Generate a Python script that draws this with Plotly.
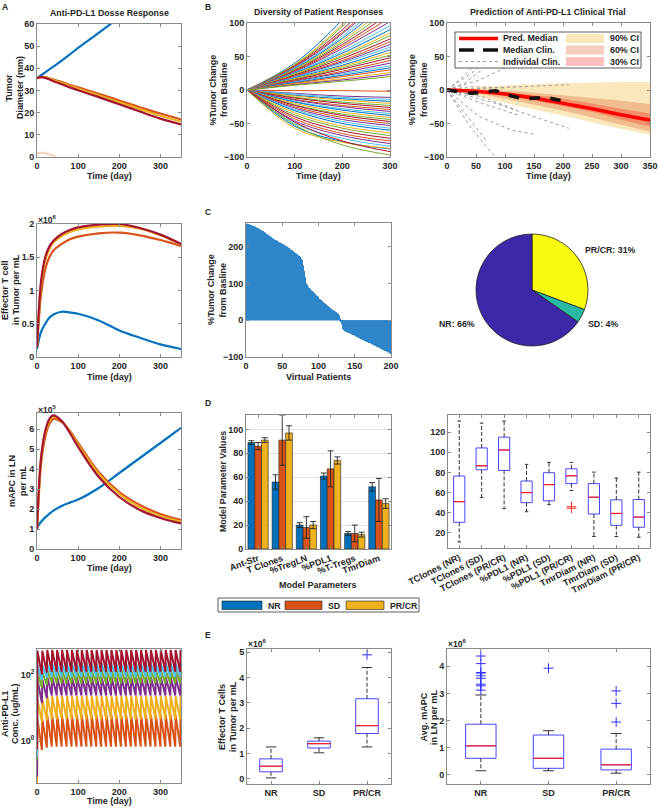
import plotly.graph_objects as go

W, H = 658, 808
FONT = "Liberation Sans, Arial, Helvetica, sans-serif"
TXT = "#262626"
AXC = "#8a8a8a"

# ======================= DATA =======================
# ---- Panel A : dose response (time in days) ----
tA = [0, 5, 10, 20, 30, 40, 60, 80, 100, 150, 200, 250, 300, 350]
diam_none = [35.5, 36.2, 36.9, 38.2, 39.5, 40.8, 43.5, 46.3, 49.2, 56.0, 63.0, 70.0, 78.0, 86.0]
diam_low = [35.5, 35.9, 36.1, 36.0, 35.5, 34.9, 33.8, 32.5, 31.4, 28.5, 25.5, 22.4, 19.6, 17.0]
diam_mid = [35.5, 35.9, 36.0, 35.9, 35.3, 34.6, 33.4, 32.0, 30.8, 27.8, 24.7, 21.6, 18.6, 16.0]
diam_high = [35.5, 35.9, 36.0, 35.7, 35.0, 34.2, 32.8, 31.4, 30.1, 27.0, 23.8, 20.5, 17.3, 14.7]
diam_faint_t = [0, 5, 15, 30, 45]
diam_faint = [1.5, 1.8, 1.9, 1.2, 0.2]

tcell_none = [0.12, 0.27, 0.38, 0.5, 0.59, 0.64, 0.68, 0.67, 0.65, 0.55, 0.40, 0.29, 0.19, 0.12]
tcell_low = [0.15, 0.6, 0.95, 1.32, 1.5, 1.6, 1.7, 1.77, 1.81, 1.86, 1.87, 1.83, 1.76, 1.67]
tcell_mid = [0.15, 0.72, 1.1, 1.45, 1.62, 1.72, 1.82, 1.88, 1.92, 1.96, 1.97, 1.93, 1.83, 1.69]
tcell_high = [0.15, 0.75, 1.15, 1.5, 1.66, 1.75, 1.85, 1.91, 1.95, 1.99, 2.0, 1.94, 1.84, 1.70]

mapc_none = [1.05, 1.22, 1.36, 1.58, 1.76, 1.92, 2.15, 2.32, 2.47, 3.05, 3.8, 4.55, 5.3, 6.05]
mapc_low = [1.0, 2.9, 4.3, 5.6, 6.25, 6.5, 6.35, 5.9, 5.3, 3.85, 2.85, 2.2, 1.75, 1.45]
mapc_mid = [1.0, 3.1, 4.5, 5.8, 6.4, 6.6, 6.4, 5.85, 5.2, 3.75, 2.75, 2.08, 1.65, 1.37]
mapc_high = [1.0, 3.2, 4.6, 5.9, 6.5, 6.68, 6.4, 5.8, 5.1, 3.6, 2.6, 1.95, 1.55, 1.28]

# Anti-PD-L1 PK (log10 ug/mL) per dose level
pk_interval = 12
pk_n_doses = 30
pk_colors = ["#D95319", "#EDB120", "#7E2F8E", "#77AC30", "#4DBEEE", "#A2142F"]
pk_start = [-1.5, -1.28, -1.08, -0.55, -0.47, -0.25]
pk_peak1 = [0.68, 1.28, 1.88, 2.10, 2.30, 2.74]
pk_peak = [0.79, 1.37, 1.95, 2.15, 2.35, 2.76]
pk_trough1 = [-0.27, 0.58, 1.15, 1.62, 1.85, 2.02]
pk_trough2 = [-0.20, 0.63, 1.30, 1.70, 1.92, 2.08]
pk_trough = [-0.17, 0.66, 1.38, 1.75, 1.95, 2.10]

# ---- Panel B left : virtual patients (% change at day 0,100,200,300) ----
tB = [0, 100, 200, 300]
vp_grow = [
    (40, 105, 190), (38, 98, 175), (37, 95, 170), (36, 90, 160), (35, 86, 150), (34, 84, 146),
    (33, 80, 140), (32, 77, 133), (31, 74, 127), (30, 71, 120), (29, 68, 114), (28, 65, 108),
    (27, 62, 102), (26, 58, 96), (25, 55, 90), (24, 52, 85), (23, 50, 81), (22, 47, 76),
    (21, 44, 72), (20, 42, 68), (19, 40, 64), (18, 37, 60), (17, 35, 56), (16, 33, 52),
    (15, 31, 48), (14, 28, 44), (13, 26, 40), (12, 24, 36), (11, 22, 33), (10, 20, 30),
    (9, 17, 26), (8, 15, 23), (7, 13, 20)]
vp_shrink = [
    (-1, -1, -2), (-5, -9, -11), (-6, -11, -14), (-8, -13, -17), (-9, -15, -20), (-11, -18, -23),
    (-12, -20, -26), (-14, -23, -29), (-15, -25, -32), (-17, -28, -35), (-18, -30, -38),
    (-20, -33, -41), (-22, -36, -44), (-23, -38, -47), (-25, -41, -50), (-27, -44, -53),
    (-29, -47, -57), (-31, -50, -60), (-34, -54, -64), (-37, -57, -68), (-40, -61, -72),
    (-43, -65, -76), (-46, -68, -80), (-50, -72, -84), (-54, -77, -88), (-57, -78, -87),
    (-52, -82, -97), (-48, -76, -92)]
line_cycle = ["#0072BD", "#D95319", "#EDB120", "#7E2F8E", "#77AC30", "#4DBEEE", "#A2142F"]

# ---- Panel B right : clinical trial prediction ----
tP = [0, 50, 100, 150, 200, 250, 300, 350]
pred_med = [0, -2, -6, -12, -20, -28, -37, -45]
ci90_hi = [0, 4, 7, 9, 10, 11, 12, 12]
ci90_lo = [0, -9, -19, -29, -38, -48, -58, -67]
ci60_hi = [0, 1, -1, -4, -8, -12, -16, -21]
ci60_lo = [0, -5, -13, -22, -31, -41, -52, -62]
ci30_hi = [0, -1, -4, -8, -13, -20, -28, -35]
ci30_lo = [0, -3, -9, -16, -24, -33, -44, -55]
clin_med_t = [0, 14, 42, 56, 84, 98, 126, 140, 168, 182, 203, 210]
clin_med = [0, -2, -5, -4, -1, -6, -12, -13, -11, -13, -17, -20]
clin_ind = [
    ([0, 28, 56], [0, 20, 45]),
    ([0, 42, 84, 100], [0, 25, 55, 70]),
    ([0, 30, 60], [0, 10, 30]),
    ([0, 56, 112], [0, 15, 38]),
    ([0, 80, 160, 210], [0, 3, 7, 8]),
    ([0, 40, 100], [0, 5, 3]),
    ([0, 60, 120], [0, -10, -30]),
    ([0, 60, 125], [0, -20, -38]),
    ([0, 56, 112, 150], [0, -40, -60, -66]),
    ([0, 84, 168, 210], [0, -20, -45, -57]),
    ([0, 40, 67], [0, -45, -75]),
    ([0, 40, 83], [0, -55, -100]),
]

# ---- Panel C : waterfall of 200 virtual patients ----
waterfall = [
    263, 262, 262, 261, 260, 260, 259, 258, 258, 257,
    256, 255, 254, 253, 252, 251, 250, 249, 247, 246,
    245, 244, 243, 241, 240, 239, 237, 236, 234, 233,
    231, 230, 228, 227, 225, 224, 223, 221, 220, 219,
    218, 217, 216, 214, 213, 212, 211, 210, 209, 208,
    207, 206, 205, 203, 202, 201, 200, 198, 197, 195,
    193, 192, 191, 189, 188, 186, 185, 183, 182, 180,
    178, 177, 175, 173, 171, 168, 165, 160, 150, 135,
    118, 104, 100, 97, 94, 91, 88, 86, 84, 82,
    80, 78, 76, 74, 72, 70, 68, 66, 64, 62,
    59, 57, 55, 54, 52, 50, 48, 47, 45, 43,
    42, 40, 38, 36, 35, 33, 32, 30, 29, 28,
    26, 25, 24, 22, 21, 20, 17, 14, 10, 5,
    -2, -10, -18, -24, -27, -29, -30, -31, -32, -33,
    -33, -34, -35, -36, -37, -38, -39, -40, -41, -42,
    -43, -44, -45, -46, -47, -48, -49, -50, -51, -52,
    -53, -54, -55, -56, -57, -58, -59, -60, -61, -62,
    -62, -63, -64, -65, -66, -67, -68, -69, -70, -71,
    -72, -73, -74, -75, -76, -77, -78, -79, -80, -81,
    -82, -83, -84, -85, -86, -87, -88, -89, -90, -92]
pie_labels = ["PR/CR", "SD", "NR"]
pie_values = [31, 4, 66]
pie_colors = ["#F9FB0E", "#27B9A4", "#3E26A8"]

# ---- Panel D left : parameter means by response ----
params = ["Ant-Str", "T Clones", "%TregLN", "%PDL1", "%T-Tregs", "TmrDiam"]
groups = ["NR", "SD", "PR/CR"]
group_colors = ["#0072BD", "#D95319", "#EDB120"]
par_mean = [[89, 56, 20, 61, 13, 52], [86, 91, 18, 67, 13, 41], [91, 97, 20, 74, 12, 38]]
par_err = [[1.5, 6, 2, 2.5, 1.5, 3.5], [3, 21, 9, 15, 7, 18], [2, 6, 3, 3, 2, 4]]

# ---- Panel D right : parameter distributions ----
box_labels = ["TClones (NR)", "TClones (SD)", "TClones (PR/CR)", "%PDL1 (NR)", "%PDL1 (SD)",
              "%PDL1 (PR/CR)", "TmrDiam (NR)", "TmrDiam (SD)", "TmrDiam (PR/CR)"]
bx_q1 = [30.5, 82.6, 82.0, 50.0, 51.8, 68.9, 38.7, 27.5, 25.6]
bx_med = [51.0, 86.6, 102.3, 60.0, 67.9, 76.7, 55.4, 39.3, 35.7]
bx_q3 = [76.4, 104.3, 115.0, 71.5, 79.7, 83.6, 68.9, 52.8, 53.1]
bx_lo = [11.0, 55.0, 44.0, 41.0, 48.0, 62.0, 16.4, 16.4, 15.7]
bx_hi = [131.0, 129.0, 131.0, 88.0, 90.0, 90.0, 80.3, 74.4, 80.3]
bx_out = [[], [], [], [], [], [46.0, 44.5], [], [], []]

# ---- Panel E : effector T cells and mAPC by response (x10^6) ----
resp = ["NR", "SD", "PR/CR"]
et_q1 = [0.28, 1.22, 1.79]
et_med = [0.50, 1.39, 2.10]
et_q3 = [0.79, 1.49, 3.16]
et_lo = [0.04, 1.03, 1.26]
et_hi = [1.26, 1.62, 4.39]
et_out = [[], [], [4.89]]
ma_q1 = [0.60, 0.23, 0.17]
ma_med = [1.06, 0.60, 0.36]
ma_q3 = [1.86, 1.46, 0.94]
ma_lo = [0.14, 0.14, 0.05]
ma_hi = [2.94, 1.62, 1.52]
ma_out = [[3.12, 3.28, 3.34, 3.56, 3.65, 3.75, 3.77, 4.10, 4.38], [3.93], [1.94, 2.63, 3.09]]

# ======================= LAYOUT HELPERS =======================
def xd(a, b):
    return [a / W, b / W]


def yd(a, b):
    return [1 - b / H, 1 - a / H]


TICKF = dict(size=9, color=TXT, family=FONT, weight="bold")


def axis(dom, **kw):
    d = dict(domain=dom, showline=True, linecolor=AXC, linewidth=1, mirror="ticks",
             ticks="inside", ticklen=3, tickcolor=AXC, showgrid=False, zeroline=False,
             tickfont=TICKF)
    d.update(kw)
    return d


annotations = []


def ann(text, x, y, size=9, angle=0, xanchor="center", yanchor="middle"):
    annotations.append(dict(text=text, x=x / W, y=1 - y / H, xref="paper", yref="paper",
                            showarrow=False, textangle=angle, xanchor=xanchor, yanchor=yanchor,
                            font=dict(size=size, color=TXT, family=FONT, weight="bold")))


def ylab(lines, xs, y, size=9):
    for t, x in zip(lines, xs):
        ann(t, x, y, size=size, angle=-90)


fig = go.Figure()

# ---------------- Panel A ----------------
A_series = [("none", "#0072BD"), ("low", "#D95319"), ("mid", "#EDB120"), ("high", "#A2142F")]
A_data = {
    1: dict(none=diam_none, low=diam_low, mid=diam_mid, high=diam_high),
    2: dict(none=tcell_none, low=tcell_low, mid=tcell_mid, high=tcell_high),
    3: dict(none=mapc_none, low=mapc_low, mid=mapc_mid, high=mapc_high),
}
fig.add_trace(go.Scatter(x=diam_faint_t, y=diam_faint, mode="lines", line=dict(color="#F6CDB4", width=2, shape="spline"),
                         xaxis="x", yaxis="y", showlegend=False))
for k in (1, 2, 3):
    suf = "" if k == 1 else str(k)
    for key, col in A_series:
        fig.add_trace(go.Scatter(x=tA, y=A_data[k][key], mode="lines",
                                 line=dict(color=col, width=2.2, shape="spline"),
                                 xaxis="x" + suf, yaxis="y" + suf, showlegend=False))

# PK sawtooth
for i, col in enumerate(pk_colors):
    xs, ys = [0, 0.8], [10 ** pk_start[i], 10 ** pk_peak1[i]]
    for k in range(1, pk_n_doses):
        tk = k * pk_interval
        tr = pk_trough1[i] if k == 1 else (pk_trough2[i] if k == 2 else pk_trough[i])
        pk = pk_peak1[i] if k == 1 else pk_peak[i]
        xs += [tk, tk + 0.8]
        ys += [10 ** tr, 10 ** pk]
    xs.append(350)
    ys.append(10 ** (pk_peak[i] - 0.17 * (pk_peak[i] - pk_trough[i])))
    fig.add_trace(go.Scatter(x=xs, y=ys, mode="lines", line=dict(color=col, width=2),
                             xaxis="x4", yaxis="y4", showlegend=False))

# ---------------- Panel B left ----------------
vp_all = []
for a, b in zip(vp_grow, vp_shrink + [None] * (len(vp_grow) - len(vp_shrink))):
    vp_all.append(a)
    if b is not None:
        vp_all.append(b)
for j, v in enumerate(vp_all):
    fig.add_trace(go.Scatter(x=tB, y=[0] + list(v), mode="lines",
                             line=dict(color=line_cycle[j % 7], width=1, shape="spline"),
                             xaxis="x5", yaxis="y5", showlegend=False))

# ---------------- Panel B right ----------------
band_cols = ["rgba(237,177,32,0.30)", "rgba(217,83,25,0.28)", "rgba(255,0,0,0.25)"]
for lo, hi, col in [(ci90_lo, ci90_hi, band_cols[0]), (ci60_lo, ci60_hi, band_cols[1]), (ci30_lo, ci30_hi, band_cols[2])]:
    fig.add_trace(go.Scatter(x=tP, y=lo, mode="lines", line=dict(width=0, shape="spline"),
                             xaxis="x6", yaxis="y6", showlegend=False, hoverinfo="skip"))
    fig.add_trace(go.Scatter(x=tP, y=hi, mode="lines", line=dict(width=0, shape="spline"), fill="tonexty",
                             fillcolor=col, xaxis="x6", yaxis="y6", showlegend=False))
for tt, vv in clin_ind:
    fig.add_trace(go.Scatter(x=tt, y=vv, mode="lines", line=dict(color="#9a9a9a", width=1, dash="dot"),
                             xaxis="x6", yaxis="y6", showlegend=False))
fig.add_trace(go.Scatter(x=tP, y=pred_med, mode="lines", line=dict(color="#FF0000", width=3.5, shape="spline"),
                         xaxis="x6", yaxis="y6", showlegend=False))
fig.add_trace(go.Scatter(x=clin_med_t, y=clin_med, mode="lines", line=dict(color="#111111", width=3.5, dash="dash"),
                         xaxis="x6", yaxis="y6", showlegend=False))

# ---------------- Panel C ----------------
fig.add_trace(go.Bar(x=list(range(1, len(waterfall) + 1)), y=waterfall, width=1.0,
                     marker=dict(color="#2E86C9", line=dict(width=0)),
                     xaxis="x7", yaxis="y7", showlegend=False))
fig.add_trace(go.Pie(labels=pie_labels, values=pie_values, sort=False, direction="clockwise", rotation=0,
                     marker=dict(colors=pie_colors, line=dict(color="#222222", width=0.8)),
                     textinfo="none", showlegend=False,
                     domain=dict(x=xd(476, 588), y=yd(234, 346))))

# ---------------- Panel D left ----------------
for g in range(3):
    fig.add_trace(go.Bar(x=list(range(1, 7)), y=par_mean[g], name=groups[g],
                         marker=dict(color=group_colors[g], line=dict(color="#222222", width=0.6)),
                         error_y=dict(type="data", array=par_err[g], color="#222222", thickness=0.9, width=3),
                         xaxis="x8", yaxis="y8", showlegend=False))


# ---------------- Box helper ----------------
def add_boxes(xa, ya, q1, med, q3, lo, hi, outs, width, cap, out_color):
    n = len(q1)
    xs = list(range(1, n + 1))
    fig.add_trace(go.Box(x=xs, q1=q1, median=med, q3=q3, lowerfence=q1, upperfence=q3, width=width,
                         line=dict(color="#4646FF", width=1), fillcolor="rgba(0,0,0,0)",
                         boxpoints=False, whiskerwidth=0, xaxis=xa, yaxis=ya, showlegend=False))
    wx, wy, cx, cy, mx, my = [], [], [], [], [], []
    for i in range(n):
        x = xs[i]
        wx += [x, x, None, x, x, None]
        wy += [q3[i], hi[i], None, q1[i], lo[i], None]
        cx += [x - cap, x + cap, None, x - cap, x + cap, None]
        cy += [hi[i], hi[i], None, lo[i], lo[i], None]
        mx += [x - width / 2, x + width / 2, None]
        my += [med[i], med[i], None]
    fig.add_trace(go.Scatter(x=wx, y=wy, mode="lines", line=dict(color="#333333", width=1, dash="4px,2px"),
                             xaxis=xa, yaxis=ya, showlegend=False))
    fig.add_trace(go.Scatter(x=cx, y=cy, mode="lines", line=dict(color="#333333", width=1),
                             xaxis=xa, yaxis=ya, showlegend=False))
    fig.add_trace(go.Scatter(x=mx, y=my, mode="lines", line=dict(color="#FF2020", width=1.2),
                             xaxis=xa, yaxis=ya, showlegend=False))
    ox, oy = [], []
    for i in range(n):
        ox += [xs[i]] * len(outs[i])
        oy += outs[i]
    if ox:
        fig.add_trace(go.Scatter(x=ox, y=oy, mode="markers",
                                 marker=dict(symbol="cross-thin-open", size=7, color=out_color,
                                             line=dict(color=out_color, width=1)),
                                 xaxis=xa, yaxis=ya, showlegend=False))


add_boxes("x9", "y9", bx_q1, bx_med, bx_q3, bx_lo, bx_hi, bx_out, 0.5, 0.08, "#FF3030")
add_boxes("x10", "y10", et_q1, et_med, et_q3, et_lo, et_hi, et_out, 0.47, 0.11, "#3030FF")
add_boxes("x11", "y11", ma_q1, ma_med, ma_q3, ma_lo, ma_hi, ma_out, 0.45, 0.08, "#3030FF")

# ======================= AXES =======================
tA_ticks = dict(tickvals=[0, 100, 200, 300], range=[0, 350])
lay = dict(
    xaxis=axis(xd(37, 181), anchor="y", **tA_ticks),
    yaxis=axis(yd(24, 157), anchor="x", range=[0, 60], tickvals=[0, 10, 20, 30, 40, 50, 60]),
    xaxis2=axis(xd(37, 181), anchor="y2", **tA_ticks),
    yaxis2=axis(yd(224, 357), anchor="x2", range=[0, 2], tickvals=[0, 0.5, 1, 1.5, 2]),
    xaxis3=axis(xd(37, 181), anchor="y3", **tA_ticks),
    yaxis3=axis(yd(413, 549), anchor="x3", range=[0, 6.8], tickvals=[0, 1, 2, 3, 4, 5, 6]),
    xaxis4=axis(xd(37, 181), anchor="y4", **tA_ticks),
    yaxis4=axis(yd(649, 783), anchor="x4", type="log", range=[-1.27, 2.79], tickvals=[1, 100],
                ticktext=["10<sup>0</sup>", "10<sup>2</sup>"]),
    xaxis5=axis(xd(247, 390), anchor="y5", range=[0, 300], tickvals=[0, 100, 200, 300]),
    yaxis5=axis(yd(23, 157), anchor="x5", range=[-100, 100], tickvals=[-100, -50, 0, 50, 100]),
    xaxis6=axis(xd(447, 650), anchor="y6", range=[0, 350], tickvals=[0, 50, 100, 150, 200, 250, 300, 350]),
    yaxis6=axis(yd(23, 157), anchor="x6", range=[-100, 100], tickvals=[-100, -50, 0, 50, 100]),
    xaxis7=axis(xd(246, 391), anchor="y7", range=[0, 200], tickvals=[0, 50, 100, 150, 200]),
    yaxis7=axis(yd(223, 357), anchor="x7", range=[-100, 265], tickvals=[-100, 0, 100, 200]),
    xaxis8=axis(xd(246, 391), anchor="y8", range=[0.5, 6.5], tickvals=list(range(1, 7)), ticktext=params,
                tickangle=-20),
    yaxis8=axis(yd(415, 549), anchor="x8", range=[0, 112], tickvals=[0, 20, 40, 60, 80, 100],
                showgrid=True, gridcolor="#e3e3e3", gridwidth=1),
    xaxis9=axis(xd(448, 650), anchor="y9", range=[0.5, 9.5], tickvals=list(range(1, 10)), ticktext=box_labels,
                tickangle=-27),
    yaxis9=axis(yd(415, 548), anchor="x9", range=[5, 137], tickvals=[20, 40, 60, 80, 100, 120]),
    xaxis10=axis(xd(247, 391), anchor="y10", range=[0.5, 3.5], tickvals=[1, 2, 3], ticktext=resp),
    yaxis10=axis(yd(649, 784), anchor="x10", range=[-0.2, 5.12], tickvals=[0, 1, 2, 3, 4, 5]),
    xaxis11=axis(xd(447, 650), anchor="y11", range=[0.5, 3.5], tickvals=[1, 2, 3], ticktext=resp),
    yaxis11=axis(yd(649, 784), anchor="x11", range=[-0.35, 4.64], tickvals=[0, 1, 2, 3, 4]),
)

# ======================= TEXT =======================
ann("A", 5, 7, size=8.5)
ann("B", 208, 7, size=8.5)
ann("C", 208, 212, size=8.5)
ann("D", 208, 403, size=8.5)
ann("E", 208, 635, size=8.5)
ann("Anti-PD-L1 Dosse Response", 109, 13, size=8.8)
ann("Diversity of Patient Responses", 318, 12, size=8.8)
ann("Prediction of Anti-PD-L1 Clinical Trial", 548, 12, size=8.8)
for yy in (176, 377, 568, 801):
    ann("Time (day)", 109, yy)
ann("Time (day)", 318, 176)
ann("Time (day)", 548, 176)
ann("Virtual Patients", 318, 377)
ann("Model Parameters", 318, 585)
ylab(["Tumor", "Diameter (mm)"], [8.5, 20], 88)
ylab(["Effector T cell", "in Tumor per mL"], [5, 16], 290)
ylab(["mAPC in LN", "per mL"], [12, 23], 481)
ylab(["Anti-PD-L1", "Conc. (ug/mL)"], [5, 15], 714)
ylab(["%Tumor Change", "from Basline"], [212.5, 224], 90)
ylab(["%Tumor Change", "from Basline"], [412, 424], 90)
ylab(["%Tumor Change", "from Basline"], [211, 222.5], 290)
ylab(["Model Parameter Values"], [223], 482, size=8.8)
ylab(["Effector T Cells", "in Tumor per mL"], [222, 233], 717)
ylab(["Avg. mAPC", "in LN per mL"], [423.5, 434], 717)
ann("×10<sup>6</sup>", 36, 219, size=8.5, xanchor="left")
ann("×10<sup>5</sup>", 36, 409, size=8.5, xanchor="left")
ann("×10<sup>6</sup>", 246, 643, size=8.5, xanchor="left")
ann("×10<sup>6</sup>", 446, 643, size=8.5, xanchor="left")
ann("PR/CR: 31%", 583, 250, size=8.8, xanchor="left")
ann("SD: 4%", 586, 324, size=8.8, xanchor="left")
ann("NR: 66%", 477, 324, size=8.8, xanchor="right")

shapes = []


def hseg(x0, x1, y, **line):
    shapes.append(dict(type="line", xref="paper", yref="paper", x0=x0 / W, x1=x1 / W, y0=1 - y / H, y1=1 - y / H,
                       line=line, layer="above"))


def rect(x0, x1, y0, y1, fill, line=None):
    shapes.append(dict(type="rect", xref="paper", yref="paper", x0=x0 / W, x1=x1 / W, y0=1 - y1 / H, y1=1 - y0 / H,
                       fillcolor=fill, line=line or dict(width=0), layer="above"))


# legend for panel B right
rect(455, 641, 32, 68, "white", dict(color="#333333", width=0.8))
leg_rows = [38.5, 50, 61.5]
hseg(459, 498, leg_rows[0], color="#FF0000", width=3.5)
hseg(459, 474, leg_rows[1], color="#111111", width=3.5)
hseg(483, 498, leg_rows[1], color="#111111", width=3.5)
hseg(459, 498, leg_rows[2], color="#9a9a9a", width=1, dash="dot")
for r, col in zip(leg_rows, ["#FAE8BC", "#F4CFBE", "#FFBFBF"]):
    rect(566, 604, r - 4.5, r + 4.5, col)
for r, t in zip(leg_rows, ["Pred. Median", "Median Clin.", "Individal Clin."]):
    ann(t, 501, r, size=8.8, xanchor="left")
for r, t in zip(leg_rows, ["90% CI", "60% CI", "30% CI"]):
    ann(t, 608, r, size=8.8, xanchor="left")

# legend for panel D left
rect(218, 419, 598, 612, "white", dict(color="#333333", width=0.8))
for (p0, p1, tx), g, col in zip([(222, 262, 266), (285, 322, 326), (346, 384, 388)], groups, group_colors):
    rect(p0, p1, 601, 609.5, col, dict(color="#222222", width=0.6))
    ann(g, tx, 605.5, size=8.8, xanchor="left")

fig.update_layout(
    width=W, height=H, margin=dict(l=0, r=0, t=0, b=0, autoexpand=False), autosize=False,
    paper_bgcolor="white", plot_bgcolor="white",
    font=dict(family=FONT, size=9, color=TXT, weight="bold"),
    barmode="group", bargap=0.16, bargroupgap=0.0,
    annotations=annotations, shapes=shapes, showlegend=False,
    **lay,
)

fig.write_html("out.html", config={"displayModeBar": False},
               post_script="document.body.style.margin='0px';document.body.style.padding='0px';"
                           "document.body.style.overflow='hidden';")
